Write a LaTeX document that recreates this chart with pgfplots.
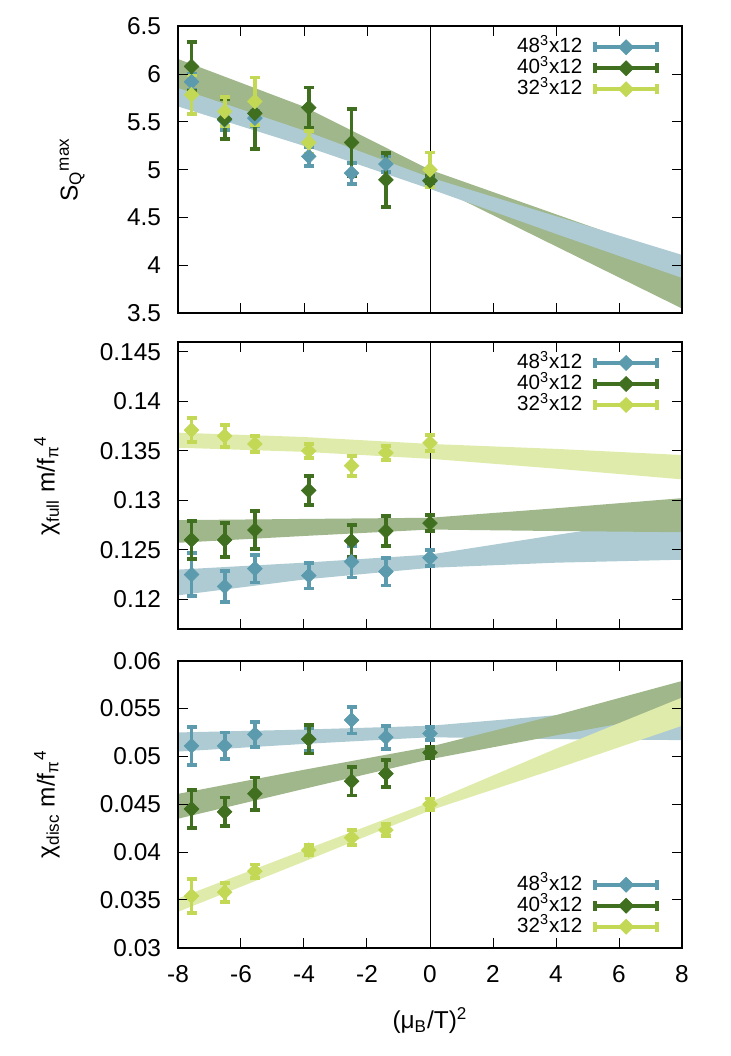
\documentclass[border=0pt]{standalone}
\usepackage{pgfplots}
\pgfplotsset{compat=1.18}
\usepackage{fontspec}
\setmainfont{Liberation Sans}

\definecolor{c48}{HTML}{5C9AAE}
\definecolor{c40}{HTML}{3F6F1F}
\definecolor{c32}{HTML}{C3D855}
\definecolor{b48}{HTML}{AECBD4}
\definecolor{b40}{HTML}{9FB78A}
\definecolor{b32}{HTML}{DFEBAA}

\newcommand{\tickfont}{\fontsize{12.2}{14}\selectfont}

\pgfplotsset{
  legend image code/.code={
    \draw[#1, line width=1.8pt] (0pt,0pt) -- (31pt,0pt);
    \draw[#1, line width=1.8pt] (0pt,-2.6pt) -- (0pt,2.6pt) (31pt,-2.6pt) -- (31pt,2.6pt);
    \fill[#1] (15.5pt,3.7pt) -- (19.3pt,0pt) -- (15.5pt,-3.7pt) -- (11.7pt,0pt) -- cycle;
  },
  panel/.style={
    width=252pt, height=143.5pt, scale only axis,
    anchor=south west,
    xmin=-8, xmax=8, xtick={-8,-6,...,8},
    scaled y ticks=false,
    tick align=inside, major tick length=5pt,
    axis on top,
    axis line style={line width=0.8pt},
    every tick/.style={black, line width=0.5pt},
    tick label style={font=\tickfont},
    label style={font=\tickfont},
    yticklabel style={xshift=-5pt},
    xticklabel style={yshift=-5.5pt},
    ylabel style={at={(axis description cs:-0.26,0.5)}, anchor=center},
    legend cell align=right, legend plot pos=right,
    legend style={draw=none, fill=none, font=\fontsize{10.3}{12}\selectfont,
      anchor=north east, at={(axis description cs:0.955,0.965)},
      inner sep=0pt, row sep=0pt, column sep=5pt,
      nodes={inner sep=0.5pt, text height=7.5pt, text depth=2pt}},
  },
  band/.style={fill=#1, draw=none, forget plot},
  pts/.style={only marks, forget plot, color=#1,
    mark=square*, mark size=2.6pt,
    mark options={rotate=45, fill=#1, draw=#1, line width=0.3pt},
    error bars/y dir=both, error bars/y explicit,
    error bars/error bar style={line width=1.9pt, #1},
    error bars/error mark options={rotate=90, mark size=2.5pt, line width=1.9pt, #1}},
}

\begin{document}
\begin{tikzpicture}

% ---------- bottom panel: chi_disc ----------
\begin{axis}[panel, at={(0pt,0pt)},
  ymin=0.03, ymax=0.06,
  ytick={0.03,0.035,0.04,0.045,0.05,0.055,0.06},
  yticklabels={0.03,0.035,0.04,0.045,0.05,0.055,0.06},
  xticklabels={-8,-6,-4,-2,0,2,4,6,8},
  xlabel={(μ\textsubscript{B}/T)\textsuperscript{2}},
  xlabel style={at={(axis description cs:0.5,-0.255)}, anchor=center},
  ylabel={χ\textsubscript{disc} m/f\textsubscript{π}\textsuperscript{4}},
  legend style={anchor=south east, at={(axis description cs:0.955,0.035)}}]

\addplot[band=b48] coordinates {(-8,0.0525) (-4,0.0528) (0,0.0532) (4,0.0543) (8,0.0558)
  (8,0.0517) (4,0.0518) (0,0.0520) (-4,0.0513) (-8,0.0505)} -- cycle;
\addplot[band=b40] coordinates {(-8,0.04608) (-4,0.0486) (0,0.05101) (4,0.05431) (8,0.05788)
  (8,0.0546) (4,0.0522) (0,0.0497) (-4,0.0466) (-8,0.04348)} -- cycle;
\addplot[band=b32] coordinates {(-8,0.03515) (-4,0.0402) (0,0.04521) (4,0.0508) (8,0.05615)
  (8,0.0532) (4,0.0487) (0,0.04435) (-4,0.0390) (-8,0.03375)} -- cycle;

\addplot[black, line width=0.5pt, forget plot] coordinates {(0,0.03) (0,0.06)};

\addplot[pts=c48] coordinates {
  (-7.57,0.0511) +- (0,0.0020)
  (-6.52,0.0511) +- (0,0.0014)
  (-5.56,0.0523) +- (0,0.0013)
  (-3.85,0.0518) +- (0,0.0012)
  (-2.49,0.0538) +- (0,0.0014)
  (-1.40,0.0520) +- (0,0.0012)
  (0,0.0524) +- (0,0.0007)};
\addplot[pts=c40] coordinates {
  (-7.57,0.0445) +- (0,0.0020)
  (-6.52,0.0442) +- (0,0.0015)
  (-5.56,0.0461) +- (0,0.0017)
  (-3.85,0.0518) +- (0,0.0015)
  (-2.49,0.0474) +- (0,0.0015)
  (-1.40,0.0482) +- (0,0.0014)
  (0,0.0504) +- (0,0.0006)};
\addplot[pts=c32] coordinates {
  (-7.57,0.0354) +- (0,0.0018)
  (-6.52,0.0358) +- (0,0.0010)
  (-5.56,0.0380) +- (0,0.0007)
  (-3.85,0.0402) +- (0,0.0005)
  (-2.49,0.0415) +- (0,0.0008)
  (-1.40,0.0423) +- (0,0.0006)
  (0,0.0450) +- (0,0.0006)};

\addlegendimage{c48}\addlegendentry{48\textsuperscript{3}x12}
\addlegendimage{c40}\addlegendentry{40\textsuperscript{3}x12}
\addlegendimage{c32}\addlegendentry{32\textsuperscript{3}x12}
\end{axis}

% ---------- middle panel: chi_full ----------
\begin{axis}[panel, at={(0pt,159.35pt)},
  ymin=0.117, ymax=0.146,
  ytick={0.12,0.125,0.13,0.135,0.14,0.145},
  yticklabels={0.12,0.125,0.13,0.135,0.14,0.145},
  xticklabels={},
  ylabel={χ\textsubscript{full} m/f\textsubscript{π}\textsuperscript{4}}]

\addplot[band=b48] coordinates {(-8,0.1230) (-4,0.1237) (0,0.12452) (4,0.1265) (8,0.1284)
  (8,0.1240) (4,0.1237) (0,0.12318) (-4,0.1220) (-8,0.1204)} -- cycle;
\addplot[band=b40] coordinates {(-8,0.1280) (-4,0.12812) (0,0.12824) (4,0.1292) (8,0.13022)
  (8,0.12678) (4,0.1269) (0,0.12705) (-4,0.1264) (-8,0.12571)} -- cycle;
\addplot[band=b32] coordinates {(-8,0.13684) (-4,0.1364) (0,0.1357) (4,0.1352) (8,0.13458)
  (8,0.13212) (4,0.1332) (0,0.1342) (-4,0.1349) (-8,0.13532)} -- cycle;

\addplot[black, line width=0.5pt, forget plot] coordinates {(0,0.117) (0,0.146)};

\addplot[pts=c48] coordinates {
  (-7.57,0.1225) +- (0,0.0022)
  (-6.52,0.1213) +- (0,0.0016)
  (-5.56,0.1231) +- (0,0.0014)
  (-3.85,0.1224) +- (0,0.0013)
  (-2.49,0.1238) +- (0,0.0016)
  (-1.40,0.1228) +- (0,0.0014)
  (0,0.1242) +- (0,0.0008)};
\addplot[pts=c40] coordinates {
  (-7.57,0.1260) +- (0,0.0019)
  (-6.52,0.1260) +- (0,0.0017)
  (-5.56,0.1270) +- (0,0.0019)
  (-3.85,0.1310) +- (0,0.0015)
  (-2.49,0.1259) +- (0,0.0016)
  (-1.40,0.1269) +- (0,0.0015)
  (0,0.1277) +- (0,0.0008)};
\addplot[pts=c32] coordinates {
  (-7.57,0.1371) +- (0,0.0012)
  (-6.52,0.1365) +- (0,0.0011)
  (-5.56,0.1357) +- (0,0.0008)
  (-3.85,0.1350) +- (0,0.0007)
  (-2.49,0.1335) +- (0,0.0010)
  (-1.40,0.1348) +- (0,0.0007)
  (0,0.1358) +- (0,0.0008)};

\addlegendimage{c48}\addlegendentry{48\textsuperscript{3}x12}
\addlegendimage{c40}\addlegendentry{40\textsuperscript{3}x12}
\addlegendimage{c32}\addlegendentry{32\textsuperscript{3}x12}
\end{axis}

% ---------- top panel: S_Q max ----------
\begin{axis}[panel, at={(0pt,317.2pt)},
  ymin=3.5, ymax=6.5,
  ytick={3.5,4,4.5,5,5.5,6,6.5},
  yticklabels={3.5,4,4.5,5,5.5,6,6.5},
  xticklabels={},
  ylabel={S\textsubscript{Q}\textsuperscript{max}},
  ylabel style={at={(axis description cs:-0.21,0.5)}}]

\addplot[band=b40] coordinates {(-8,6.158) (-4,5.66) (0,5.0) (4,4.535) (8,4.07)
  (8,3.55) (4,4.2) (0,4.85) (-4,5.40) (-8,5.85)} -- cycle;
\addplot[band=b48] coordinates {(-8,5.855) (-4,5.41) (0,4.92) (4,4.515) (8,4.11)
  (8,3.87) (4,4.33) (0,4.80) (-4,5.25) (-8,5.662)} -- cycle;

\addplot[black, line width=0.5pt, forget plot] coordinates {(0,3.5) (0,6.5)};

\addplot[pts=c48] coordinates {
  (-7.57,5.92) +- (0,0.08)
  (-6.52,5.52) +- (0,0.10)
  (-5.56,5.54) +- (0,0.08)
  (-3.85,5.14) +- (0,0.10)
  (-2.49,4.965) +- (0,0.11)
  (-1.40,5.06) +- (0,0.08)
  (0,4.89) +- (0,0.06)};
\addplot[pts=c40] coordinates {
  (-7.57,6.08) +- (0,0.26)
  (-6.52,5.53) +- (0,0.21)
  (-5.56,5.59) +- (0,0.375)
  (-3.85,5.65) +- (0,0.21)
  (-2.49,5.285) +- (0,0.35)
  (-1.40,4.895) +- (0,0.28)
  (0,4.885) +- (0,0.05)};
\addplot[pts=c32] coordinates {
  (-7.57,5.785) +- (0,0.20)
  (-6.52,5.61) +- (0,0.15)
  (-5.56,5.715) +- (0,0.25)
  (-3.85,5.285) +- (0,0.12)
  (0,5.0) +- (0,0.18)};

\addlegendimage{c48}\addlegendentry{48\textsuperscript{3}x12}
\addlegendimage{c40}\addlegendentry{40\textsuperscript{3}x12}
\addlegendimage{c32}\addlegendentry{32\textsuperscript{3}x12}
\end{axis}

\pgfresetboundingbox
\path[use as bounding box] (-89pt,-54.15pt) rectangle (276.5pt,473.85pt);
\end{tikzpicture}
\end{document}
